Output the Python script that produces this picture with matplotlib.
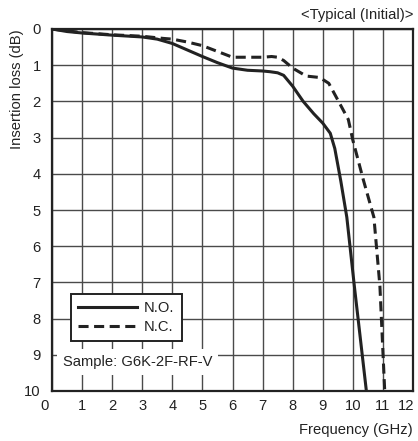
import matplotlib
matplotlib.use("Agg")
import matplotlib.pyplot as plt
import matplotlib.transforms as mtransforms
import numpy as np

plt.rcParams.update({
    "font.family": ["Liberation Sans", "DejaVu Sans"],
    "font.size": 10.6,
    "text.color": "#222222",
})

# ---------------------------------------------------------------------------
# Data (frequency in GHz, insertion loss in dB)
# ---------------------------------------------------------------------------
no_freq = [0, 0.5, 1, 2, 3, 3.5, 4, 4.5, 5, 5.5, 6, 6.5, 7, 7.25, 7.5, 7.7,
           8.0, 8.35, 8.7, 9.0, 9.25, 9.4, 9.6, 9.8, 10.05, 10.45]
no_loss = [0, 0.07, 0.11, 0.17, 0.22, 0.28, 0.40, 0.58, 0.76, 0.93, 1.08, 1.14,
           1.16, 1.18, 1.21, 1.28, 1.58, 2.0, 2.34, 2.6, 2.88, 3.3, 4.2, 5.2,
           7.1, 10.0]

nc_freq = [0, 1, 2, 3, 3.7, 4, 4.5, 5, 5.5, 6, 6.5, 7, 7.3, 7.5, 7.7, 8.0,
           8.45, 8.9, 9.2, 9.5, 9.85, 10.0, 10.35, 10.7, 10.9, 11.06]
nc_loss = [0, 0.1, 0.16, 0.2, 0.26, 0.28, 0.36, 0.46, 0.62, 0.78, 0.78, 0.78,
           0.76, 0.78, 0.87, 1.08, 1.3, 1.34, 1.5, 1.96, 2.5, 3.07, 4.17, 5.2,
           7.1, 10.0]

x_ticks = list(range(0, 13))
y_ticks = list(range(0, 11))

LINE_C = "#222222"
GRID_C = "#4a4a4a"
FS = 10.6


def main():
    fig = plt.figure(figsize=(4.18, 4.41), dpi=100)
    ax = fig.add_axes([52 / 418, 50 / 441, 361 / 418, 362 / 441])

    ax.set_xlim(0, 12)
    ax.set_ylim(10, 0)
    ax.set_xticks(x_ticks)
    ax.set_yticks(y_ticks)
    ax.tick_params(length=0, labelsize=FS, colors="#222222")
    ax.tick_params(axis="x", pad=6)
    ax.tick_params(axis="y", pad=8)
    ax.grid(True, color=GRID_C, linewidth=1.0)
    ax.set_axisbelow(True)
    for sp in ax.spines.values():
        sp.set_linewidth(1.6)
        sp.set_color("#222222")

    # end labels sit a little to the left in the original
    xlabels = ax.get_xticklabels()
    for i in (0, len(xlabels) - 1):
        xlabels[i].set_transform(xlabels[i].get_transform() +
                                 mtransforms.ScaledTranslation(-7 / 100, 0, fig.dpi_scale_trans))

    ax.plot(no_freq, no_loss, color=LINE_C, lw=2.2, label="N.O.",
            solid_joinstyle="round", zorder=3)
    ax.plot(nc_freq, nc_loss, color=LINE_C, lw=2.2, label="N.C.",
            dashes=(3.3, 1.8), zorder=3)

    leg = ax.legend(loc="upper left", bbox_to_anchor=(0.052, 0.268),
                    borderaxespad=0, fancybox=False, framealpha=1,
                    edgecolor="#222222", handlelength=4.0, handletextpad=0.45,
                    labelspacing=0.3, borderpad=0.5, fontsize=FS)
    leg.get_frame().set_linewidth(1.4)
    leg.set_zorder(5)

    ax.text(2.85, 9.2, "Sample: G6K-2F-RF-V", ha="center", va="center",
            fontsize=FS, zorder=5,
            bbox=dict(facecolor="white", edgecolor="none", pad=4.0))

    ax.text(-0.098, 1.0, "Insertion loss (dB)", transform=ax.transAxes,
            rotation=90, ha="center", va="top", fontsize=FS)
    ax.text(1.0, -0.108, "Frequency (GHz)", transform=ax.transAxes,
            ha="right", va="center", fontsize=FS)
    ax.text(1.0, 1.038, "<Typical (Initial)>", transform=ax.transAxes,
            ha="right", va="center", fontsize=FS)

    fig.savefig("out.png", dpi=100, facecolor="white")


if __name__ == "__main__":
    main()
